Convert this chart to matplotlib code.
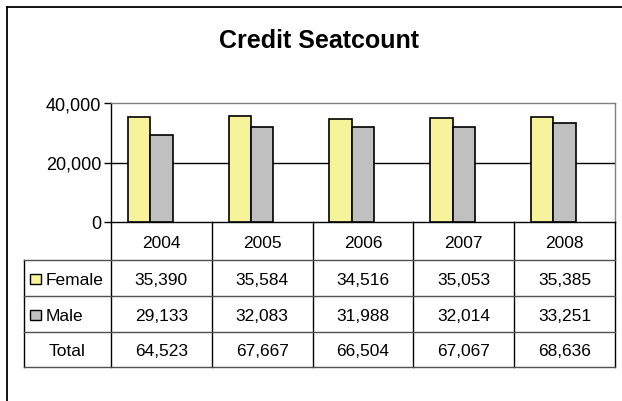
import matplotlib
matplotlib.use("Agg")
import matplotlib.pyplot as plt
from matplotlib.lines import Line2D
from matplotlib.patches import Rectangle
from matplotlib.ticker import FuncFormatter

plt.rcParams["font.family"] = ["Liberation Sans", "DejaVu Sans"]

# ── data ──
years = ["2004", "2005", "2006", "2007", "2008"]
female = [35390, 35584, 34516, 35053, 35385]
male = [29133, 32083, 31988, 32014, 33251]
total = [64523, 67667, 66504, 67067, 68636]
y_ticks = [0, 20000, 40000]

series_names = ["Female", "Male"]
series_colors = ["#f6f39b", "#c0c0c0"]

# ── layout (pixels) ──
W, H = 622, 402
plot_l, plot_r, plot_t, plot_b = 111, 615, 104, 223
col_w = (plot_r - plot_l) / len(years)
lab_l = 24
lab_w = (plot_l - lab_l) / col_w
row_edges = [223, 261, 297, 333, 368]

fig = plt.figure(figsize=(W / 100, H / 100), dpi=100)

# outer frame
fig.add_artist(Line2D([6.5 / W, 1], [(H - 8) / H] * 2, color="black", lw=1.3))
fig.add_artist(Line2D([6.5 / W] * 2, [0, (H - 8) / H], color="black", lw=1.3))

fig.text(318.5 / W, (H - 48) / H, "Credit Seatcount", ha="center", va="baseline",
         fontsize=18, fontweight="bold")

# ── bars ──
ax = fig.add_axes([plot_l / W, (H - plot_b) / H, (plot_r - plot_l) / W, (plot_b - plot_t) / H])
bw = 1 / 4.5  # 3 series incl. hidden total, gap width 150%
x = list(range(len(years)))
ax.bar([i - bw for i in x], female, bw, color=series_colors[0], edgecolor="black", lw=1.2, zorder=3)
ax.bar(x, male, bw, color=series_colors[1], edgecolor="black", lw=1.2, zorder=3)
ax.set_xlim(-0.5, len(years) - 0.5)
ax.set_ylim(0, 40000)
ax.set_yticks(y_ticks)
ax.yaxis.set_major_formatter(FuncFormatter(lambda v, p: f"{int(v):,}"))
ax.tick_params(axis="y", direction="out", length=5, width=1, labelsize=13, pad=2)
ax.set_xticks([])
ax.axhline(20000, color="black", lw=1, zorder=1)
ax.spines["left"].set_color("black")
ax.spines["bottom"].set_color("black")
ax.spines["top"].set_color("#808080")
ax.spines["right"].set_color("#808080")
for s in ax.spines.values():
    s.set_linewidth(1)

# ── data table ──
tax = fig.add_axes([lab_l / W, (H - row_edges[-1]) / H, (plot_r - lab_l) / W,
                    (row_edges[-1] - row_edges[0]) / H])
x0 = -0.5 - lab_w
tax.set_xlim(x0, len(years) - 0.5)
tax.set_ylim(row_edges[-1], row_edges[0])
tax.axis("off")

for k in range(len(years) + 1):
    tax.plot([k - 0.5, k - 0.5], [row_edges[0], row_edges[-1]], color="black", lw=1, clip_on=False)
tax.plot([x0, x0], [row_edges[1], row_edges[-1]], color="black", lw=1, clip_on=False)
for y in row_edges[1:]:
    tax.plot([x0, len(years) - 0.5], [y, y], color="#505050", lw=1, clip_on=False)

yc = [(row_edges[i] + row_edges[i + 1]) / 2 + 1.5 for i in range(len(row_edges) - 1)]
fs = 12.5
for i, yr in enumerate(years):
    tax.text(i, yc[0], yr, ha="center", va="center", fontsize=fs)

rows = [female, male, total]
for r, vals in enumerate(rows):
    for i, v in enumerate(vals):
        tax.text(i, yc[r + 1], f"{v:,}", ha="center", va="center", fontsize=fs)

for r, (name, c) in enumerate(zip(series_names, series_colors)):
    tax.add_patch(Rectangle((x0 + 6 / col_w, yc[r + 1] - 5.5), 11 / col_w, 10,
                            facecolor=c, edgecolor="black", lw=1, clip_on=False))
    tax.text(x0 + 22 / col_w, yc[r + 1], name, ha="left", va="center", fontsize=fs)
tax.text(x0 + lab_w / 2, yc[3], "Total", ha="center", va="center", fontsize=fs)

fig.savefig("out.png", dpi=100)
